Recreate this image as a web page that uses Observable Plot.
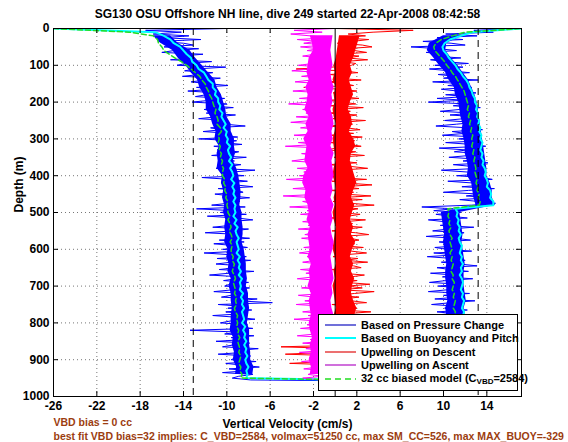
<!DOCTYPE html>
<html><head><meta charset="utf-8">
<script src="https://cdn.jsdelivr.net/npm/d3@7"></script>
<script src="https://cdn.jsdelivr.net/npm/@observablehq/plot@0.6"></script>
<style>
body{margin:0;background:#fff;}
#wrap{position:relative;width:568px;height:442px;font-family:"Liberation Sans",Arial,sans-serif;}
#wrap svg.plot{position:absolute;left:0;top:0;}
#legend{position:absolute;left:318px;top:314px;width:200px;height:77px;background:#fff;border:1px solid #000;box-sizing:border-box;font-weight:bold;font-size:11px;color:#000;}
.row{position:absolute;left:6px;height:14px;display:flex;align-items:center;white-space:nowrap;}
.row svg{margin-right:5px;}
sub{font-size:8px;vertical-align:-2px;}
</style>
</head><body>
<div id="wrap"></div>
<script>
// ---- text ----
const titleText = "SG130 OSU Offshore NH line, dive 249 started 22-Apr-2008 08:42:58";
const xLabel = "Vertical Velocity (cm/s)";
const yLabel = "Depth (m)";
const note1 = "VBD bias = 0 cc";
const note2 = "best fit VBD bias=32 implies: C_VBD=2584, volmax=51250 cc, max SM_CC=526, max MAX_BUOY=-329";
const legendLabels = ["Based on Pressure Change","Based on Buoyancy and Pitch","Upwelling on Descent","Upwelling on Ascent","32 cc biased model (C<sub>VBD</sub>=2584)"];

// ---- axes ----
const xTicks = [-26,-22,-18,-14,-10,-6,-2,2,6,10,14];
const yTicks = [0,100,200,300,400,500,600,700,800,900,1000];
const xDomain = [-26, 17.2];
const refLines = [-13.1, 13.2];
const zeroLine = [0];

// ---- sampling (m) ----
const fineStep = 5;    // blue, red, magenta traces
const coarseStep = 10; // cyan, green
const bandStep = 20, bandStart = 20; // dense cores of the noisy traces

// Based on Pressure Change, descent (0..955 m)
const blueDown = [
-10,-17.5,-14.2,-16.8,-13.5,-15.9,-12.4,-16.3,-14.0,-13.1,-15.8,-12.6,-14.9,-16.0,-12.2,-14.4,-13.0,-15.2,-11.4,-13.8,
-14.6,-10.1,-12.9,-13.9,-11.3,-12.5,-14.1,-10.6,-12.0,-13.3,-11.7,-9.9,-12.8,-11.2,-13.6,-10.8,-11.9,-12.9,-10.2,-11.5,
-13.2,-10.0,-11.6,-9.4,-12.1,-10.7,-11.9,-9.2,-10.9,-12.6,-9.9,-11.3,-10.2,-8.3,-11.5,-10.4,-12.2,-9.6,-10.8,-9.0,
-12.6,-9.1,-10.4,-8.6,-11.2,-9.8,-10.9,-8.9,-9.6,-11.4,-8.2,-10.1,-9.3,-10.8,-8.7,-9.9,-11.0,-7.4,-9.5,-10.3,
-8.4,-12.3,-9.7,-8.1,-10.5,-9.2,-7.6,-10.8,-9.0,-8.5,-11.1,-9.6,-7.9,-10.2,-8.8,-9.9,-11.4,-8.3,-12.8,-9.4,
-10.6,-8.2,-11.8,-9.0,-7.6,-10.1,-8.8,-9.7,-11.3,-8.0,-9.4,-12.0,-8.6,-9.9,-7.9,-10.7,-8.4,-11.2,-9.3,-8.1,
-10.4,-8.7,-12.1,-9.5,-8.2,-10.9,-7.8,-9.6,-11.0,-8.5,-9.2,-10.7,-7.5,-9.8,-11.6,-8.6,-9.1,-10.3,-8.0,-9.7,
-10.2,-7.9,-9.4,-11.2,-8.3,-9.6,-10.5,-7.2,-9.0,-5.8,-10.8,-8.6,-9.9,-7.7,-10.1,-8.4,-11.3,-8.9,-7.4,-9.7,
-10.6,-8.1,-9.3,-7.6,-13.4,-8.8,-10.2,-7.5,-9.6,-8.2,-11.0,-7.9,-9.4,-10.4,-7.1,-9.0,-8.4,-10.8,-7.8,-9.2,
-9.6,-7.3,-10.1,-8.5,-7.0,-9.8,-8.1,-10.4,-7.6,-8.9,-9.5,-7.8
];
// Based on Pressure Change, ascent (0..960 m, listed by depth)
const blueUp = [
17,12.8,14.6,10.2,13.1,9.4,11.8,8.1,10.7,12.0,7.0,9.6,11.2,8.4,10.3,9.1,11.6,8.8,10.0,12.3,
9.2,11.8,8.7,10.6,12.4,9.5,11.1,10.0,13.2,9.0,11.7,10.4,12.6,9.8,11.3,13.0,10.2,12.1,9.4,11.9,
8.6,12.2,10.9,13.4,11.5,9.7,12.8,10.6,13.1,11.9,10.1,12.9,11.2,9.3,12.4,13.6,10.8,12.0,9.9,13.2,
11.4,13.5,10.2,12.6,13.9,9.6,12.1,11.0,13.7,12.4,10.5,13.2,11.8,14.1,10.9,12.7,13.4,9.8,12.2,13.8,
11.2,13.6,14.5,10.4,12.8,13.9,11.7,14.7,12.3,10.0,13.5,12.1,14.3,11.5,13.2,14.8,12.6,8.0,10.9,9.1,
11.6,9.3,10.7,12.2,8.6,10.1,11.4,9.7,12.8,10.4,9.0,11.9,10.6,8.4,11.1,12.5,9.6,10.8,11.7,9.2,
10.3,12.6,9.1,11.2,8.5,10.9,12.0,9.8,11.5,13.1,9.4,10.6,12.3,8.8,11.0,9.9,12.7,10.2,8.7,11.6,
9.5,11.8,10.4,8.6,12.4,10.0,11.3,9.2,12.9,10.7,8.9,11.5,10.1,12.2,9.4,11.0,8.3,10.8,12.6,9.9,
11.2,9.6,12.3,10.5,8.8,11.7,10.0,12.5,9.3,11.0,10.6,8.9,12.1,9.8,11.4,10.2,12.7,9.1,10.9,11.6,
9.7,11.9,10.3,8.7,12.2,10.6,9.4,11.3,10.1,12.0,9.5,10.8,11.4
];
// dense core of the pressure-change trace (20..940 m)
const blueDownLo = [
-16.8,-16.1,-15.0,-14.5,-13.8,-13.3,-12.7,-12.5,-12.1,-11.9,
-11.9,-11.5,-11.3,-11.0,-11.1,-10.7,-10.9,-10.8,-10.9,-10.4,
-10.5,-10.3,-10.4,-10.2,-10.3,-10.1,-10.2,-10.1,-10.2,-9.9,
-10.0,-9.8,-9.9,-9.6,-9.8,-9.6,-9.6,-9.5,-9.6,-9.6,
-9.7,-9.4,-9.5,-9.3,-9.4,-9.1,-9.2
];
const blueDownHi = [
-15.2,-14.5,-13.4,-12.9,-12.3,-11.7,-11.1,-10.9,-10.5,-10.3,
-10.1,-10.0,-9.6,-9.6,-9.3,-9.3,-9.2,-9.4,-9.1,-8.9,
-8.8,-8.7,-8.7,-8.8,-8.6,-8.6,-8.5,-8.5,-8.6,-8.4,
-8.3,-8.2,-8.2,-8.1,-8.2,-8.0,-8.0,-7.9,-8.0,-8.1,
-7.9,-7.9,-7.9,-7.8,-7.8,-7.5,-7.6
];
const blueUpLo = [
10.0,8.7,8.5,9.1,9.6,10.2,10.5,11.0,11.1,11.4,
11.5,11.6,11.8,11.7,11.9,12.0,12.0,12.2,12.3,12.2,
12.6,12.7,12.8,13.0,9.8,9.9,10.0,10.1,10.0,10.1,
10.2,10.3,10.2,10.2,10.3,10.3,10.4,10.2,10.3,10.3,
10.3,10.4,10.5,10.3,10.4,10.4,10.3
];
const blueUpHi = [
11.8,10.3,10.2,10.7,11.3,11.8,12.3,12.6,12.9,13.1,
13.2,13.3,13.4,13.5,13.6,13.7,13.8,13.9,14.0,14.0,
14.3,14.5,14.5,14.8,11.5,11.6,11.7,11.8,11.7,11.8,
11.9,12.0,11.9,11.9,11.9,12.0,12.1,11.9,12.0,12.0,
12.0,12.1,12.2,12.0,12.1,12.1,12.0
];
// Based on Buoyancy and Pitch (0..950 descent, 0..960 ascent)
const cyanDown = [
-26,-16.6,-15.8,-15.2,-14.9,-14.3,-14.0,-13.7,-13.3,-13.2,
-12.8,-12.6,-12.1,-11.9,-11.7,-11.3,-11.3,-11.0,-11.1,-10.8,
-10.8,-10.6,-10.7,-10.4,-10.5,-10.3,-10.1,-10.3,-10.0,-10.1,
-9.9,-10.0,-9.7,-9.9,-9.8,-9.6,-9.8,-9.5,-9.7,-9.5,
-9.4,-9.6,-9.3,-9.5,-9.3,-9.4,-9.2,-9.4,-9.2,-9.3,
-9.2,-9.4,-9.1,-9.3,-9.0,-9.2,-9.1,-8.9,-9.1,-9.0,
-8.9,-9.1,-8.8,-9.0,-8.8,-8.9,-8.7,-8.9,-8.6,-8.8,
-8.7,-8.8,-8.5,-8.7,-8.5,-8.6,-8.4,-8.6,-8.5,-8.4,
-8.6,-8.3,-8.5,-8.3,-8.4,-8.2,-8.4,-8.2,-8.3,-8.1,
-8.3,-8.2,-8.0,-8.2,-8.1,-8.2
];
const cyanUp = [
17.2,12.6,11.6,10.6,10.1,9.9,10.0,10.3,10.5,10.8,
11.1,11.3,11.6,11.8,12.1,12.3,12.4,12.6,12.7,12.9,
12.9,13.1,13.0,13.2,13.1,13.3,13.2,13.4,13.3,13.5,
13.4,13.6,13.5,13.4,13.6,13.5,13.7,13.6,13.8,13.9,
13.8,14.0,14.1,14.0,14.3,14.4,14.3,14.6,14.6,11.1,
11.3,11.2,11.4,11.3,11.5,11.4,11.6,11.4,11.5,11.7,
11.6,11.5,11.7,11.6,11.8,11.6,11.7,11.5,11.7,11.8,
11.7,11.6,11.8,11.7,11.9,11.8,11.7,11.9,11.8,11.9,
11.8,11.9,11.8,12.0,11.9,11.8,12.0,11.9,11.8,12.0,
11.9,12.1,11.9,12.0,11.8,12.0,11.9
];
// 32 cc biased model
const greenDown = [
-26,-19.0,-16.8,-16.4,-16.3,-16.0,-15.8,-15.3,-14.8,-14.2,
-13.7,-13.3,-12.9,-12.5,-12.3,-12.0,-11.9,-11.7,-11.6,-11.4,
-11.3,-11.2,-11.0,-11.1,-10.9,-10.8,-10.9,-10.6,-10.5,-10.8,
-10.7,-10.8,-10.6,-10.7,-10.5,-10.6,-10.4,-10.5,-10.3,-10.4,
-10.4,-10.2,-10.3,-10.1,-10.2,-10.0,-10.1,-9.9,-10.0,-9.9,
-9.9,-9.7,-9.9,-9.7,-9.6,-9.8,-9.6,-9.5,-9.7,-9.5,
-9.6,-9.6,-9.4,-9.5,-9.3,-9.4,-9.5,-9.3,-9.2,-9.4,
-9.3,-9.2,-9.3,-9.1,-9.2,-9.1,-9.3,-9.2,-9.0,-9.1,
-9.0,-9.1,-8.9,-9.0,-8.8,-9.0,-8.9,-8.8,-8.9,-8.7,
-8.8,-8.9,-8.7,-8.8,-8.6,-8.7
];
const greenUp = [
17.2,12.0,10.8,9.8,9.3,9.1,9.2,9.5,9.8,10.1,
10.3,10.6,10.8,11.1,11.3,11.5,11.7,11.9,12.0,12.1,
12.2,12.3,12.2,12.4,12.3,12.5,12.4,12.6,12.5,12.7,
12.6,12.7,12.6,12.8,12.7,12.9,12.8,12.9,13.0,12.9,
13.0,13.1,13.0,13.2,13.1,13.3,13.2,13.4,13.3,10.4,
10.5,10.4,10.6,10.5,10.7,10.5,10.6,10.8,10.6,10.7,
10.8,10.6,10.8,10.7,10.9,10.8,10.7,10.9,10.8,11.0,
10.9,10.8,11.0,10.9,11.1,11.0,10.9,11.1,11.0,11.1,
11.0,11.1,11.2,11.0,11.1,11.2,11.1,11.0,11.2,11.1,
11.2,11.1,11.3,11.1,11.2,11.1,11.2
];
// Upwelling on Descent (0..955 m)
const redDown = [
0.0,7.2,3.5,1.2,2.8,0.4,3.1,1.6,0.2,2.5,3.4,0.9,1.8,2.9,0.3,2.2,1.1,3.0,0.6,1.9,
1.5,-0.3,-3.6,0.8,2.1,-0.5,1.2,0.1,2.4,-0.8,0.9,1.7,-2.9,0.5,2.0,-0.2,1.3,0.4,2.2,-0.6,
0.7,1.9,-0.4,2.6,0.2,1.4,-0.7,2.0,0.9,-0.2,2.8,0.5,1.6,-0.6,1.1,2.3,0.0,1.7,-0.3,2.5,
0.6,1.8,-0.5,1.3,2.4,0.1,-0.8,1.9,0.8,2.7,-0.1,1.2,0.4,2.0,-0.6,1.5,3.0,0.3,1.0,-0.4,
1.6,0.2,2.9,-0.3,1.1,3.4,0.6,2.2,-0.5,1.7,0.9,3.3,0.1,2.5,-0.2,1.4,3.6,0.7,2.1,1.0,
0.4,2.3,1.2,-0.4,2.8,0.9,1.6,0.0,2.5,1.1,-0.3,1.9,3.1,0.5,1.4,2.2,-0.1,1.8,0.7,2.6,
0.2,1.5,2.9,0.8,-0.2,2.1,1.0,3.0,0.3,1.7,2.4,-0.4,1.2,0.6,2.7,1.4,0.0,2.0,0.9,3.2,
1.1,2.5,0.4,3.6,1.8,0.1,2.2,0.7,1.5,2.9,-0.3,1.3,2.0,0.5,3.3,1.0,1.9,0.2,2.6,1.2,
0.8,-0.6,1.7,0.3,2.2,-1.0,1.1,0.5,-0.4,1.9,0.0,-1.3,1.4,-5.0,0.6,1.2,-0.8,-4.6,0.9,1.6,
0.4,-0.9,-4.2,1.0,0.2,-0.5,1.3,-1.2,0.7,0.1,-0.7,0.5
];
const redLo = [
0.4,0.3,0.2,0.1,-0.1,0.0,-0.2,0.1,-0.1,0.0,
-0.2,-0.1,0.1,0.0,-0.2,-0.1,0.0,0.1,-0.1,-0.2,
0.0,0.1,-0.1,0.0,-0.2,-0.1,0.1,0.0,-0.1,-0.2,
0.0,0.1,-0.1,0.0,-0.2,-0.1,0.0,0.1,-0.1,-0.2,
0.0,-0.1,0.1,0.0,-0.2,-0.1,0.0
];
const redHi = [
2.3,2.1,1.9,1.7,1.4,1.6,1.3,1.5,1.7,1.4,
1.2,1.5,1.6,1.3,1.7,1.9,1.5,1.4,1.6,1.8,
2.0,1.7,1.5,1.8,1.6,1.4,1.7,1.5,1.9,1.6,
1.4,1.7,1.5,1.8,1.6,1.5,1.7,2.0,1.8,1.5,
1.3,1.5,1.4,1.2,1.4,1.3,1.5
];
// Upwelling on Ascent (0..960 m)
const magentaUp = [
0.0,-3.8,-1.2,-4.1,-2.3,-0.4,-3.5,-1.7,-2.9,-0.8,-3.2,-1.5,-2.6,-0.5,-1.9,-3.0,-1.1,-2.4,-0.7,-2.0,
-3.4,-1.0,-2.5,-4.0,-0.6,-1.8,-3.1,-0.9,-2.2,-3.7,-1.3,-0.3,-2.8,-1.6,-3.9,-0.8,-2.1,-1.4,-3.3,-0.5,
-2.4,-4.3,-1.2,-0.6,-3.0,-1.8,-2.7,-0.4,-3.6,-1.5,-2.2,-4.1,-0.9,-1.9,-3.2,-0.7,-2.5,-1.3,-3.8,-1.0,
-2.0,-0.5,-3.4,-1.6,-4.6,-1.1,-2.6,-0.3,-3.1,-1.9,-0.8,-2.8,-4.0,-1.4,-2.3,-0.6,-3.5,-1.7,-2.9,-0.9,
-3.3,-1.2,-4.5,-2.1,-0.4,-2.7,-1.5,-3.9,-0.8,-2.4,-1.0,-4.8,-1.8,-0.5,-3.0,-2.2,-1.1,-4.2,-0.7,-2.6,
-1.4,-3.2,-0.6,-2.3,-1.7,-3.0,-0.9,-2.5,-1.2,-3.4,-0.4,-1.9,-2.8,-1.0,-3.1,-1.6,-0.7,-2.4,-1.3,-2.9,
-0.8,-2.2,-3.3,-1.1,-2.6,-0.5,-1.8,-3.0,-1.4,-2.1,-0.6,-3.2,-1.5,-2.7,-0.9,-2.0,-3.5,-1.2,-0.4,-2.4,
-1.7,-3.1,-0.7,-2.3,-1.0,-3.4,-1.9,-0.5,-2.8,-1.3,-3.6,-0.8,-2.0,-1.5,-3.0,-0.6,-2.5,-1.1,-3.8,-1.6,
-0.9,-2.6,-1.4,-3.2,-0.5,-2.1,-1.8,-3.5,-0.8,-2.3,-1.2,-3.0,-0.6,-1.9,-2.7,-1.0,-3.3,-1.6,-0.7,-2.4,
-1.3,-3.1,-0.8,-2.2,-1.6,-2.9,-0.6,-1.9,-2.5,-1.1,-3.0,-1.4,-0.9
];
const magentaLo = [
-2.3,-2.1,-2.0,-2.4,-2.5,-2.6,-2.4,-2.7,-2.5,-2.6,
-2.8,-2.4,-2.7,-2.5,-2.9,-2.6,-2.7,-2.8,-2.5,-2.9,
-3.0,-2.7,-2.8,-2.5,-2.4,-2.6,-2.3,-2.5,-2.4,-2.3,
-2.5,-2.2,-2.4,-2.3,-2.5,-2.2,-2.4,-2.3,-2.2,-2.4,
-2.3,-2.1,-2.3,-2.2,-2.4,-2.2,-2.3
];
const magentaHi = [
-0.2,-0.3,-0.4,-0.3,-0.2,-0.4,-0.3,-0.1,-0.3,-0.2,
-0.4,-0.2,-0.1,-0.3,-0.2,-0.4,-0.1,-0.3,-0.2,-0.1,
-0.3,-0.2,-0.4,-0.1,-0.3,-0.2,-0.4,-0.3,-0.1,-0.2,
-0.4,-0.3,-0.2,-0.1,-0.3,-0.2,-0.4,-0.3,-0.1,-0.2,
-0.3,-0.1,-0.2,-0.4,-0.3,-0.2,-0.1
];

// ---- build tables ----
const pts = (arr, step) => arr.map((v, i) => ({v, d: i * step}));
const dive = (down, up, step) => pts(down, step).concat(pts(up, step).reverse());
const band = (lo, hi) => lo.map((l, i) => ({lo: l, hi: hi[i], d: bandStart + i * bandStep}));
const blueTrack = dive(blueDown, blueUp, fineStep);
const cyanTrack = dive(cyanDown, cyanUp, coarseStep);
const greenTrack = dive(greenDown, greenUp, coarseStep);
const redTrack = pts(redDown, fineStep);
const magentaTrack = pts(magentaUp, fineStep).reverse();

const colors = {blue:"#0000ff", cyan:"#00ffff", red:"#ff0000", magenta:"#ff00ff", green:"#22dd22"};
const F = "'Liberation Sans', Arial, sans-serif";
const fmt = d => String(d);
const bandMark = (lo, hi, c) => Plot.areaX(band(lo, hi), {y: "d", x1: "lo", x2: "hi", fill: c, curve: "linear", clip: true});

const chart = Plot.plot({
  width: 568, height: 442,
  marginLeft: 53, marginRight: 47, marginTop: 28, marginBottom: 46,
  style: {fontFamily: F, background: "#fff", overflow: "visible"},
  x: {domain: xDomain},
  y: {domain: [0, 1000], reverse: true},
  marks: [
    Plot.ruleX(xTicks, {stroke: "#777", strokeDasharray: "1,3", strokeWidth: 1}),
    Plot.ruleY(yTicks, {stroke: "#777", strokeDasharray: "1,3", strokeWidth: 1}),
    bandMark(blueDownLo, blueDownHi, colors.blue),
    bandMark(blueUpLo, blueUpHi, colors.blue),
    Plot.line(blueTrack, {x: "v", y: "d", stroke: colors.blue, strokeWidth: 1, clip: true}),
    Plot.line(cyanTrack, {x: "v", y: "d", stroke: colors.cyan, strokeWidth: 2, clip: true}),
    bandMark(redLo, redHi, colors.red),
    Plot.line(redTrack, {x: "v", y: "d", stroke: colors.red, strokeWidth: 1, clip: true}),
    bandMark(magentaLo, magentaHi, colors.magenta),
    Plot.line(magentaTrack, {x: "v", y: "d", stroke: colors.magenta, strokeWidth: 1, clip: true}),
    Plot.line(greenTrack, {x: "v", y: "d", stroke: colors.green, strokeWidth: 1.5, strokeDasharray: "5,3", clip: true}),
    Plot.ruleX(zeroLine, {stroke: "#000", strokeWidth: 1}),
    Plot.ruleX(refLines, {stroke: "#000", strokeWidth: 1, strokeDasharray: "7,5"}),
    Plot.frame({stroke: "#000"}),
    Plot.tickX(xTicks, {x: d => d, insetTop: 363, stroke: "#000"}),
    Plot.tickX(xTicks, {x: d => d, insetBottom: 363, stroke: "#000"}),
    Plot.tickY(yTicks, {y: d => d, insetRight: 463, stroke: "#000"}),
    Plot.tickY(yTicks, {y: d => d, insetLeft: 463, stroke: "#000"}),
    Plot.axisX(xTicks, {tickSize: 0, tickPadding: 5, label: null, fontSize: 12, fontWeight: "bold", tickFormat: fmt}),
    Plot.axisY(yTicks, {tickSize: 0, tickPadding: 4, label: null, fontSize: 12, fontWeight: "bold", tickFormat: fmt}),
    Plot.text([titleText], {text: d => d, frameAnchor: "top", dy: -14, fontSize: 12, fontWeight: "bold", lineAnchor: "middle"}),
    Plot.text([xLabel], {text: d => d, frameAnchor: "bottom", dy: 28, fontSize: 12, fontWeight: "bold", lineAnchor: "middle"}),
    Plot.text([yLabel], {text: d => d, frameAnchor: "left", dx: -34, rotate: -90, fontSize: 12, fontWeight: "bold", lineAnchor: "middle"}),
    Plot.text([note1], {text: d => d, frameAnchor: "bottom-left", dy: 26, textAnchor: "start", fontSize: 10.5, fontWeight: "bold", fill: "#9c3d10", lineAnchor: "middle"}),
    Plot.text([note2], {text: d => d, frameAnchor: "bottom-left", dy: 40, textAnchor: "start", fontSize: 10.5, fontWeight: "bold", fill: "#9c3d10", lineAnchor: "middle"})
  ]
});
chart.classList.add("plot");
const wrap = document.getElementById("wrap");
wrap.appendChild(chart);

// ---- legend ----
const legendStyles = [
  {stroke: "#1010c0", dash: null, w: 1.2},
  {stroke: colors.cyan, dash: null, w: 2},
  {stroke: "#e01010", dash: null, w: 1.2},
  {stroke: "#c040d0", dash: null, w: 1.5},
  {stroke: colors.green, dash: "6,4", w: 1.5}
];
const leg = document.createElement("div");
leg.id = "legend";
legendLabels.forEach((lab, i) => {
  const row = document.createElement("div");
  row.className = "row";
  row.style.top = (3 + i * 13.4) + "px";
  const s = legendStyles[i];
  row.innerHTML = `<svg width="31" height="4"><line x1="0" y1="2" x2="31" y2="2" stroke="${s.stroke}" stroke-width="${s.w}" ${s.dash ? `stroke-dasharray="${s.dash}"` : ""}/></svg><span>${lab}</span>`;
  leg.appendChild(row);
});
wrap.appendChild(leg);
</script>
</body></html>
